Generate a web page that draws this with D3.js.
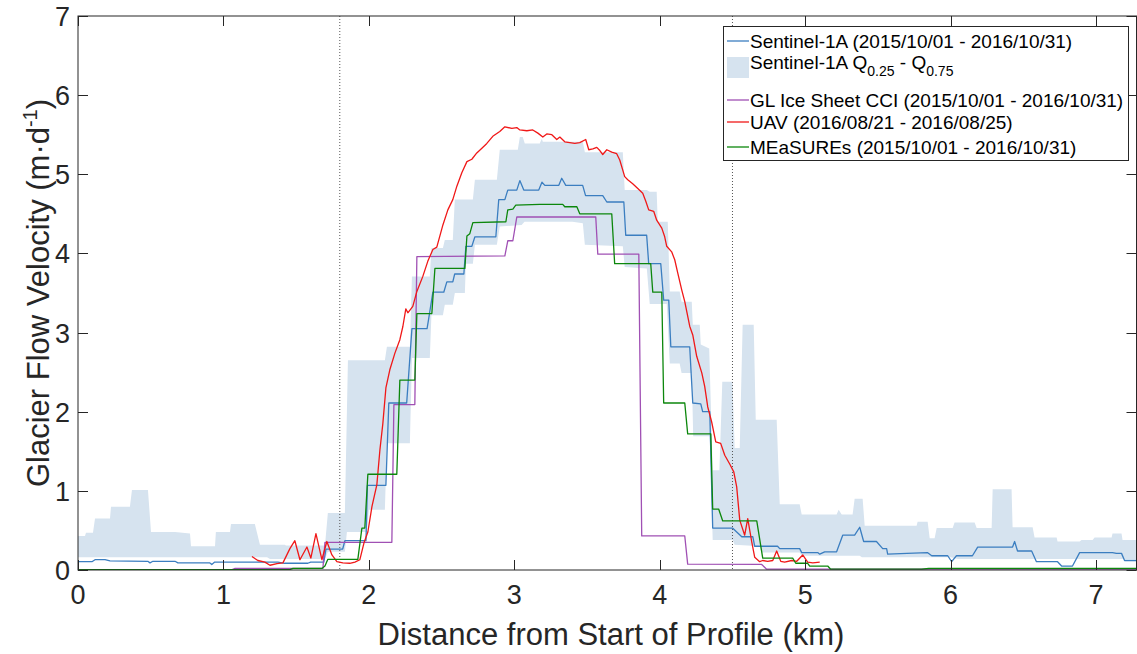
<!DOCTYPE html>
<html>
<head>
<meta charset="utf-8">
<script src="https://cdn.jsdelivr.net/npm/d3@7"></script>
<style>
  html, body { margin: 0; padding: 0; background: #fff; }
  svg { display: block; font-family: "Liberation Sans", Arial, Helvetica, sans-serif; }
</style>
</head>
<body>
<svg id="chart" width="1137" height="654"></svg>
<script>
// ---------------- DATA ----------------
const xTicks = [0, 1, 2, 3, 4, 5, 6, 7];
const yTicks = [0, 1, 2, 3, 4, 5, 6, 7];
const xDomain = [0, 7.278];
const yDomain = [0, 7];
const markerLines = [1.8, 4.5];

const legendLabels = [
  "Sentinel-1A (2015/10/01 - 2016/10/31)",
  "Sentinel-1A Q",
  "GL Ice Sheet CCI (2015/10/01 - 2016/10/31)",
  "UAV (2016/08/21 - 2016/08/25)",
  "MEaSUREs (2015/10/01 - 2016/10/31)"
];

// Sentinel-1A velocity [km, m/d]
const sentinel = [
  [0.00,0.105],[0.096,0.105],[0.117,0.13],[0.186,0.13],[0.22,0.115],[0.48,0.11],[0.495,0.09],[0.515,0.11],
  [0.667,0.11],[0.687,0.09],[0.907,0.09],[0.92,0.07],[0.94,0.10],[1.375,0.10],[1.42,0.085],[1.58,0.085],
  [1.60,0.10],[1.69,0.10],[1.705,0.265],[1.82,0.265],[1.835,0.37],[1.98,0.37],[1.99,1.07],[2.117,1.07],
  [2.137,2.11],[2.26,2.11],[2.296,3.05],[2.40,3.05],[2.41,3.16],[2.44,3.51],[2.515,3.51],[2.536,3.64],
  [2.577,3.64],[2.59,3.74],[2.653,3.74],[2.667,4.09],[2.708,4.09],[2.729,4.21],[2.873,4.21],[2.893,4.68],
  [2.935,4.68],[2.955,4.80],[3.017,4.80],[3.038,4.92],[3.065,4.80],[3.168,4.80],[3.19,4.90],[3.21,4.86],
  [3.306,4.86],[3.326,4.95],[3.354,4.86],[3.47,4.86],[3.49,4.73],[3.608,4.73],[3.636,4.65],[3.753,4.65],
  [3.766,4.23],[3.91,4.23],[3.924,3.87],[4.007,3.87],[4.027,3.41],[4.062,3.41],[4.076,2.82],[4.206,2.82],
  [4.227,2.11],[4.282,2.10],[4.295,2.0],[4.344,2.0],[4.364,0.53],[4.50,0.53],[4.564,0.42],[4.64,0.42],
  [4.653,0.30],[4.81,0.30],[4.825,0.27],[4.962,0.27],[4.976,0.22],[5.086,0.22],[5.10,0.20],[5.134,0.23],
  [5.216,0.23],[5.258,0.44],[5.34,0.44],[5.375,0.54],[5.402,0.36],[5.49,0.36],[5.533,0.27],[5.56,0.27],
  [5.567,0.20],[5.70,0.21],[5.84,0.22],[5.87,0.18],[5.98,0.18],[6.007,0.105],[6.04,0.18],[6.15,0.18],
  [6.186,0.29],[6.426,0.29],[6.44,0.36],[6.46,0.24],[6.557,0.24],[6.59,0.105],[6.735,0.105],[6.763,0.05],
  [6.838,0.05],[6.887,0.22],[7.113,0.22],[7.14,0.21],[7.175,0.21],[7.196,0.12],[7.278,0.12]
];

// Sentinel-1A Q0.75 (upper edge of band)
const bandUpper = [
  [0,0.43],[0.048,0.43],[0.055,0.47],[0.103,0.47],[0.117,0.65],[0.22,0.65],[0.227,0.80],[0.357,0.80],
  [0.371,1.01],[0.481,1.01],[0.502,0.48],[0.667,0.48],[0.77,0.46],[0.777,0.30],[0.942,0.30],[0.948,0.48],
  [1.045,0.48],[1.052,0.58],[1.216,0.58],[1.251,0.32],[1.423,0.32],[1.43,0.31],[1.698,0.31],[1.718,0.72],
  [1.835,0.72],[1.856,2.65],[2.11,2.65],[2.124,2.82],[2.282,2.82],[2.296,3.71],[2.419,3.71],[2.43,4.07],
  [2.509,4.07],[2.522,4.17],[2.577,4.17],[2.591,4.68],[2.715,4.68],[2.729,4.93],[2.88,4.93],[2.90,5.31],
  [3.024,5.31],[3.038,5.47],[3.058,5.47],[3.072,5.39],[3.175,5.39],[3.189,5.45],[3.196,5.41],[3.471,5.41],
  [3.485,5.28],[3.746,5.28],[3.759,4.80],[3.911,4.80],[3.931,4.78],[3.979,4.78],[3.986,4.40],[4.055,4.40],
  [4.069,3.52],[4.137,3.52],[4.15,3.39],[4.22,3.39],[4.227,3.10],[4.275,3.10],[4.282,2.85],[4.34,2.80],
  [4.364,1.26],[4.41,1.26],[4.43,2.38],[4.50,2.38],[4.515,1.54],[4.55,1.54],[4.57,3.10],[4.646,3.10],
  [4.66,1.90],[4.804,1.90],[4.825,0.83],[4.962,0.83],[4.976,0.70],[5.216,0.70],[5.23,0.76],[5.251,0.70],
  [5.326,0.70],[5.34,0.90],[5.395,0.90],[5.409,0.56],[5.766,0.56],[5.773,0.61],[5.842,0.61],[5.856,0.40],
  [5.89,0.40],[5.904,0.53],[6.014,0.53],[6.027,0.60],[6.165,0.60],[6.179,0.53],[6.282,0.53],[6.289,1.02],
  [6.419,1.02],[6.426,0.54],[6.564,0.54],[6.577,0.41],[6.729,0.41],[6.735,0.36],[6.887,0.36],[6.90,0.38],
  [6.976,0.38],[6.99,0.41],[7.107,0.41],[7.113,0.46],[7.175,0.46],[7.182,0.38],[7.278,0.38]
];

// Sentinel-1A Q0.25 (lower edge of band)
const bandLower = [
  [0,0.16],[1.3,0.16],[1.32,0.14],[1.698,0.14],[1.718,0.23],[1.835,0.23],[1.849,0.48],[1.986,0.48],
  [2.0,0.76],[2.11,0.76],[2.124,1.60],[2.282,1.60],[2.296,2.68],[2.419,2.68],[2.43,3.22],[2.509,3.22],
  [2.522,3.35],[2.577,3.35],[2.591,3.50],[2.66,3.50],[2.667,3.87],[2.715,3.87],[2.729,4.11],[2.88,4.11],
  [2.90,4.34],[3.05,4.36],[3.07,4.40],[3.40,4.40],[3.471,4.38],[3.485,4.11],[3.746,4.09],[3.759,3.83],
  [3.911,3.81],[3.931,3.36],[4.048,3.36],[4.069,2.61],[4.137,2.61],[4.15,2.49],[4.22,2.49],[4.23,1.69],
  [4.344,1.69],[4.364,0.38],[4.502,0.38],[4.515,0.32],[4.687,0.30],[4.70,0.22],[4.962,0.22],[4.976,0.18],
  [5.375,0.18],[5.39,0.16],[6.0,0.16],[6.05,0.14],[7.278,0.14]
];

// GL Ice Sheet CCI
const cci = [
  [0,0.005],[1.06,0.005],[1.08,0.02],[1.684,0.02],[1.698,0.35],[2.158,0.35],[2.172,2.09],[2.316,2.09],
  [2.33,3.96],[2.935,3.97],[2.955,4.16],[2.99,4.16],[3.017,4.46],[3.56,4.46],[3.574,3.99],[3.856,3.99],
  [3.876,0.43],[4.172,0.43],[4.192,0.075],[4.701,0.07],[4.735,0.01],[7.278,0.01]
];

// UAV
const uav = [
  [1.196,0.17],[1.237,0.12],[1.285,0.10],[1.32,0.06],[1.368,0.08],[1.409,0.09],[1.457,0.27],[1.491,0.37],
  [1.526,0.13],[1.574,0.29],[1.601,0.15],[1.636,0.46],[1.677,0.13],[1.711,0.36],[1.746,0.19],[1.78,0.105],
  [1.821,0.09],[1.869,0.085],[1.904,0.10],[1.938,0.13],[1.966,0.34],[1.993,0.48],[2.021,0.80],[2.055,1.08],
  [2.076,1.52],[2.096,1.85],[2.117,2.30],[2.144,2.53],[2.179,2.74],[2.213,2.91],[2.234,3.08],[2.254,3.30],
  [2.268,3.25],[2.302,3.33],[2.33,3.52],[2.371,3.71],[2.405,3.90],[2.44,4.05],[2.467,4.08],[2.509,4.36],
  [2.543,4.55],[2.577,4.68],[2.605,4.85],[2.639,5.02],[2.674,5.16],[2.708,5.19],[2.742,5.27],[2.777,5.33],
  [2.811,5.39],[2.852,5.48],[2.90,5.54],[2.935,5.60],[2.983,5.58],[3.017,5.59],[3.038,5.56],[3.086,5.55],
  [3.127,5.56],[3.162,5.52],[3.196,5.47],[3.223,5.51],[3.258,5.50],[3.292,5.44],[3.313,5.47],[3.347,5.41],
  [3.381,5.40],[3.416,5.39],[3.45,5.40],[3.491,5.44],[3.512,5.31],[3.54,5.32],[3.567,5.34],[3.588,5.30],
  [3.608,5.25],[3.636,5.31],[3.67,5.28],[3.704,5.26],[3.725,5.18],[3.759,4.97],[3.78,4.93],[3.814,4.88],
  [3.849,4.82],[3.883,4.76],[3.904,4.66],[3.924,4.55],[3.959,4.53],[3.979,4.42],[4.014,4.32],[4.034,4.21],
  [4.048,4.09],[4.082,4.02],[4.103,3.92],[4.124,3.75],[4.151,3.54],[4.172,3.39],[4.206,3.08],[4.227,2.97],
  [4.254,2.70],[4.289,2.49],[4.309,2.32],[4.33,2.06],[4.357,1.87],[4.385,1.62],[4.419,1.60],[4.447,1.45],
  [4.481,1.34],[4.509,1.24],[4.529,1.05],[4.55,0.63],[4.584,0.44],[4.605,0.65],[4.632,0.36],[4.653,0.16],
  [4.687,0.105],[4.708,0.12],[4.742,0.11],[4.777,0.12],[4.804,0.24],[4.832,0.11],[4.859,0.10],[4.907,0.12],
  [4.942,0.11],[4.983,0.19],[5.017,0.10],[5.052,0.09],[5.10,0.10]
];

// MEaSUREs
const measures = [
  [0,0.005],[1.457,0.005],[1.478,0.02],[1.677,0.02],[1.698,0.05],[1.718,0.135],[1.924,0.135],[1.952,0.53],
  [1.972,0.53],[1.993,1.21],[2.192,1.21],[2.213,2.40],[2.316,2.40],[2.33,3.24],[2.433,3.24],[2.454,3.81],
  [2.66,3.81],[2.674,4.22],[2.694,4.25],[2.715,4.39],[2.942,4.40],[2.955,4.55],[2.99,4.56],[3.01,4.61],
  [3.175,4.62],[3.333,4.62],[3.347,4.59],[3.43,4.59],[3.45,4.50],[3.67,4.50],[3.69,3.87],[3.938,3.87],
  [3.952,3.51],[4.014,3.51],[4.027,2.11],[4.172,2.11],[4.192,1.72],[4.351,1.72],[4.364,0.77],[4.405,0.77],
  [4.433,0.62],[4.667,0.62],[4.708,0.15],[4.914,0.15],[4.935,0.085],[5.017,0.085],[5.031,0.05],[5.155,0.05],
  [5.175,0.01],[5.8,0.01],[5.85,0.02],[7.278,0.02]
];

// ---------------- STYLE / LAYOUT ----------------
const colors = {
  band: "#d6e3ef",
  sentinel: "#3b7ec0",
  cci: "#a050b4",
  uav: "#f01818",
  measures: "#0c870c",
  axis: "#262626"
};

const plot = { left: 78, right: 1136.5, top: 16, bottom: 570 };

const svg = d3.select("#chart");
const x = d3.scaleLinear().domain(xDomain).range([plot.left, plot.right]);
const y = d3.scaleLinear().domain(yDomain).range([plot.bottom, plot.top]);

svg.append("defs").append("clipPath").attr("id", "clip")
  .append("rect")
  .attr("x", plot.left).attr("y", plot.top)
  .attr("width", plot.right - plot.left).attr("height", plot.bottom - plot.top);

const g = svg.append("g").attr("clip-path", "url(#clip)");

const line = d3.line().x(d => x(d[0])).y(d => y(d[1]));

// band polygon
const bandPoly = bandUpper.concat(bandLower.slice().reverse());
g.append("path")
  .attr("d", line(bandPoly) + "Z")
  .attr("fill", colors.band)
  .attr("stroke", "none");

// marker dotted lines
g.selectAll(".marker").data(markerLines).enter().append("line")
  .attr("x1", d => x(d)).attr("x2", d => x(d))
  .attr("y1", plot.top).attr("y2", plot.bottom)
  .attr("stroke", "#555").attr("stroke-width", 1)
  .attr("stroke-dasharray", "1,2");

const series = [
  { data: sentinel, color: colors.sentinel },
  { data: cci, color: colors.cci },
  { data: uav, color: colors.uav },
  { data: measures, color: colors.measures }
];
series.forEach(s => {
  g.append("path")
    .attr("d", line(s.data))
    .attr("fill", "none")
    .attr("stroke", s.color)
    .attr("stroke-width", 1.3)
    .attr("stroke-linejoin", "round");
});

// ---------------- AXES ----------------
const axG = svg.append("g");
axG.append("rect")
  .attr("x", plot.left).attr("y", plot.top)
  .attr("width", plot.right - plot.left).attr("height", plot.bottom - plot.top)
  .attr("fill", "none").attr("stroke", colors.axis).attr("stroke-width", 1);

const tickLen = 10;
const tickFont = 27;
xTicks.forEach(t => {
  const px = Math.round(x(t)) + 0.5;
  axG.append("line").attr("x1", px).attr("x2", px).attr("y1", plot.bottom).attr("y2", plot.bottom - tickLen)
    .attr("stroke", colors.axis).attr("stroke-width", 1);
  axG.append("line").attr("x1", px).attr("x2", px).attr("y1", plot.top).attr("y2", plot.top + tickLen)
    .attr("stroke", colors.axis).attr("stroke-width", 1);
  axG.append("text").attr("x", x(t)).attr("y", 604)
    .attr("text-anchor", "middle").attr("font-size", tickFont).attr("fill", colors.axis).text(t);
});
yTicks.forEach(t => {
  const py = Math.round(y(t)) + 0.5;
  axG.append("line").attr("x1", plot.left).attr("x2", plot.left + tickLen).attr("y1", py).attr("y2", py)
    .attr("stroke", colors.axis).attr("stroke-width", 1);
  axG.append("line").attr("x1", plot.right).attr("x2", plot.right - tickLen).attr("y1", py).attr("y2", py)
    .attr("stroke", colors.axis).attr("stroke-width", 1);
  axG.append("text").attr("x", 70).attr("y", y(t) + 10)
    .attr("text-anchor", "end").attr("font-size", tickFont).attr("fill", colors.axis).text(t);
});

// axis titles
svg.append("text")
  .attr("x", 611).attr("y", 645)
  .attr("text-anchor", "middle").attr("font-size", 31).attr("fill", colors.axis)
  .text("Distance from Start of Profile (km)");

const yl = svg.append("text")
  .attr("transform", `translate(49, 293) rotate(-90)`)
  .attr("text-anchor", "middle").attr("font-size", 31).attr("fill", colors.axis);
yl.append("tspan").text("Glacier Flow Velocity (m·d");
yl.append("tspan").attr("font-size", 20).attr("dy", -12).text("-1");
yl.append("tspan").attr("dy", 12).text(")");

// ---------------- LEGEND ----------------
const lg = svg.append("g");
const L = { x: 723, y: 26, w: 405, h: 134 };
lg.append("rect").attr("x", L.x + 0.5).attr("y", L.y + 0.5).attr("width", L.w).attr("height", L.h)
  .attr("fill", "#fff").attr("stroke", colors.axis).attr("stroke-width", 1);

const rowsY = [41, 67, 100, 122, 147];
const legendColors = [colors.sentinel, colors.band, colors.cci, colors.uav, colors.measures];
const fs = 19;
legendLabels.forEach((lab, i) => {
  const ry = rowsY[i];
  if (i === 1) {
    lg.append("rect").attr("x", 727).attr("y", 57).attr("width", 22).attr("height", 21)
      .attr("fill", colors.band);
    const t = lg.append("text").attr("x", 750).attr("y", ry + 2).attr("font-size", fs).attr("fill", "#000");
    t.append("tspan").text(lab);
    t.append("tspan").attr("font-size", 14).attr("dy", 7).text("0.25");
    t.append("tspan").attr("dy", -7).text(" - Q");
    t.append("tspan").attr("font-size", 14).attr("dy", 7).text("0.75");
  } else {
    lg.append("line").attr("x1", 727).attr("x2", 749).attr("y1", ry).attr("y2", ry)
      .attr("stroke", legendColors[i]).attr("stroke-width", 1.3);
    lg.append("text").attr("x", 750).attr("y", ry + 7).attr("font-size", fs).attr("fill", "#000").text(lab);
  }
});
</script>
</body>
</html>
